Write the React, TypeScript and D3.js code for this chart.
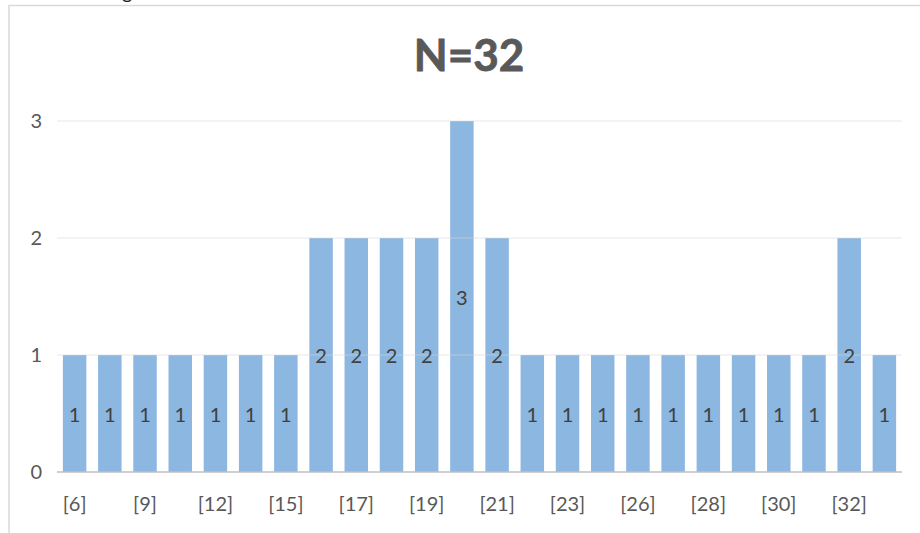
import React, { useEffect, useRef } from "react";
import * as d3 from "d3";

const categories = ["[6]","[8]","[9]","[11]","[12]","[14]","[15]","[16]","[17]","[18]","[19]","[20]","[21]","[22]","[23]","[25]","[26]","[27]","[28]","[29]","[30]","[31]","[32]","[33]"];
const counts = [1,1,1,1,1,1,1,2,2,2,2,3,2,1,1,1,1,1,1,1,1,1,2,1];
const yTicks = [0,1,2,3];
const title = "N=32";

const W = 920, H = 533;
const FONT = "Lato, 'Open Sans', sans-serif";

export default function App() {
  const ref = useRef<SVGSVGElement>(null);
  useEffect(() => {
    const svg = d3.select(ref.current);
    svg.selectAll("*").remove();
    const left = 57, right = 902, top = 121, bottom = 472;
    const x = d3.scaleBand<string>().domain(categories).range([left, right]).paddingInner(0.333).paddingOuter(0.1667);
    const y = d3.scaleLinear().domain([0, 3]).range([bottom, top]);

    svg.append("rect").attr("x", 0).attr("y", 0).attr("width", W).attr("height", H).attr("fill", "#fff");
    svg.append("path").attr("d", `M9,${H} V5.5 H${W}`).attr("fill", "none").attr("stroke", "#d9d9d9").attr("stroke-width", 1.5);
    svg.append("text").attr("x", 122).attr("y", -1).attr("font-family", FONT).attr("font-size", 20).attr("fill", "#222").text("g");

    svg.append("text").attr("x", 469).attr("y", 71).attr("text-anchor", "middle")
      .attr("font-family", FONT).attr("font-weight", 700).attr("font-size", 44).attr("fill", "#595959")
      .attr("stroke", "#595959").attr("stroke-width", 0.8).text(title);

    const g = svg.append("g");
    g.selectAll("rect.bar").data(counts).join("rect").attr("class", "bar")
      .attr("x", (_, i) => x(categories[i])!).attr("width", x.bandwidth())
      .attr("y", d => y(d)).attr("height", d => y(0) - y(d)).attr("fill", "#8cb7e0");

    g.selectAll("line.grid").data(yTicks.filter(t => t > 0)).join("line").attr("class", "grid")
      .attr("x1", left).attr("x2", right).attr("y1", d => y(d)).attr("y2", d => y(d))
      .attr("stroke", "#d9d9d9").attr("stroke-opacity", 0.6).attr("stroke-width", 1.2);
    g.append("line").attr("x1", left).attr("x2", right).attr("y1", y(0)).attr("y2", y(0))
      .attr("stroke", "#bfbfbf").attr("stroke-width", 1.5);

    g.selectAll("text.ytick").data(yTicks).join("text").attr("class", "ytick")
      .attr("x", 42).attr("y", d => y(d)).attr("dy", "0.35em").attr("text-anchor", "end")
      .attr("font-family", FONT).attr("font-size", 20).attr("fill", "#595959").text(d => String(d));

    g.selectAll("text.xtick").data(categories.filter((_, i) => i % 2 === 0)).join("text").attr("class", "xtick")
      .attr("x", d => x(d)! + x.bandwidth() / 2).attr("y", 504).attr("dy", "0.35em").attr("text-anchor", "middle")
      .attr("font-family", FONT).attr("font-size", 20).attr("fill", "#595959").text(d => d);

    g.selectAll("text.val").data(counts).join("text").attr("class", "val")
      .attr("x", (_, i) => x(categories[i])! + x.bandwidth() / 2).attr("y", d => (y(d) + y(0)) / 2 + 1).attr("dy", "0.35em")
      .attr("text-anchor", "middle").attr("font-family", FONT).attr("font-size", 20).attr("fill", "#404040").text(d => String(d));
  }, []);
  return (
    <svg ref={ref} width={W} height={H} style={{ position: "absolute", left: 0, top: 0, overflow: "visible" }} />
  );
}
